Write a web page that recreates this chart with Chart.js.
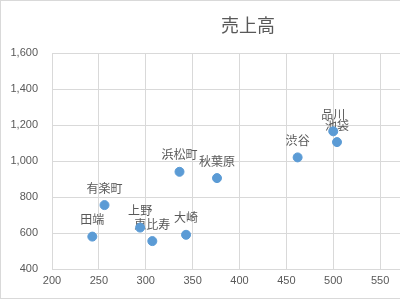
<!DOCTYPE html>
<html>
<head>
<meta charset="utf-8">
<script src="https://cdn.jsdelivr.net/npm/chart.js@4"></script>
<style>
  body { margin: 0; overflow: hidden; background: #fff; }
  #wrap { position: relative; width: 496px; height: 300px; }
  #frame { position: absolute; left: 0; top: 0; width: 494px; height: 297px; border: 1px solid #D9D9D9; pointer-events: none; }
</style>
</head>
<body>
<div id="wrap">
  <canvas id="chart" width="496" height="300"></canvas>
  <div id="frame"></div>
</div>
<script>
// store names and their (x, y) values
let stores = ['田端', '有楽町', '上野', '恵比寿', '浜松町', '大崎', '秋葉原', '渋谷', '品川', '池袋'];
let xValues = [243, 256, 294, 307, 336, 343, 376, 462, 500, 504];
let yValues = [580, 755, 630, 555, 940, 590, 905, 1020, 1165, 1105];
let xTicks = [200, 250, 300, 350, 400, 450, 500, 550, 600];
let yTicks = [400, 600, 800, 1000, 1200, 1400, 1600];
let chartTitle = '売上高';

let textColor = '#595959';
let gridColor = '#D9D9D9';

/* labels drawn before the points so markers sit on top */
let pointLabels = {
    id: 'pointLabels',
    beforeDatasetsDraw: function(chart) {
        let ctx = chart.ctx;
        let meta = chart.getDatasetMeta(0);
        ctx.save();
        ctx.font = '12px "Noto Sans CJK JP"';
        ctx.fillStyle = textColor;
        ctx.textAlign = 'center';
        ctx.textBaseline = 'middle';
        meta.data.forEach(function(pt, i) {
            ctx.fillText(stores[i], pt.x, pt.y - 17);
        });
        ctx.restore();
    }
};

/* title centred on the whole chart box, not just the plot */
let boxTitle = {
    id: 'boxTitle',
    afterDraw: function(chart) {
        let ctx = chart.ctx;
        ctx.save();
        ctx.font = '18px "Noto Sans CJK JP"';
        ctx.fillStyle = textColor;
        ctx.textAlign = 'center';
        ctx.textBaseline = 'middle';
        ctx.fillText(chartTitle, chart.width / 2, 25);
        ctx.restore();
    }
};

new Chart(document.getElementById('chart'), {
    type: 'scatter',
    data: {
        datasets: [{
            label: chartTitle,
            data: xValues.map(function(x, i) { return { x: x, y: yValues[i] }; }),
            backgroundColor: '#5B9BD5',
            borderColor: '#5B9BD5',
            pointRadius: 4.5,
            pointHoverRadius: 4.5
        }]
    },
    options: {
        responsive: false,
        animation: false,
        layout: { padding: { left: 0, right: 69, top: 53, bottom: 0 } },
        plugins: {
            legend: { display: false },
            tooltip: { enabled: false },
            title: { display: false }
        },
        scales: {
            x: {
                type: 'linear',
                min: xTicks[0],
                max: xTicks[xTicks.length - 1],
                afterBuildTicks: function(s) { s.ticks = xTicks.map(function(v) { return { value: v }; }); },
                afterFit: function(s) { s.height = 31; },
                grid: { color: gridColor, drawTicks: false },
                border: { color: gridColor },
                ticks: {
                    color: textColor,
                    padding: 5,
                    maxRotation: 0,
                    font: { family: '"Liberation Sans"', size: 11 }
                }
            },
            y: {
                min: yTicks[0],
                max: yTicks[yTicks.length - 1],
                afterBuildTicks: function(s) { s.ticks = yTicks.map(function(v) { return { value: v }; }); },
                afterFit: function(s) { s.width = 52; },
                grid: { color: gridColor, drawTicks: false },
                border: { display: false },
                ticks: {
                    color: textColor,
                    padding: 14,
                    font: { family: '"Liberation Sans"', size: 11 },
                    callback: function(v) { return v.toLocaleString('en-US'); }
                }
            }
        }
    },
    plugins: [pointLabels, boxTitle]
});
</script>
</body>
</html>
